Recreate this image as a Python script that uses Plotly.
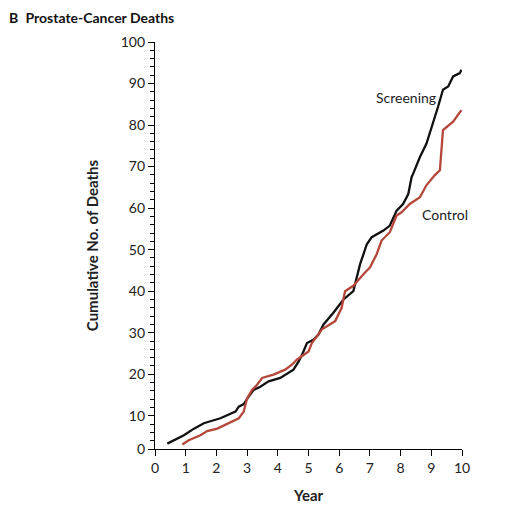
import plotly.graph_objects as go

# cumulative deaths (years, count)
screening_year = [0.40, 0.94, 1.27, 1.59, 2.13, 2.35, 2.62, 2.73, 2.89, 3.05, 3.21, 3.43,
                  3.70, 4.08, 4.35, 4.51, 4.68, 4.79, 4.95, 5.16, 5.32, 5.49, 5.81, 6.14,
                  6.46, 6.57, 6.68, 6.90, 7.06, 7.44, 7.65, 7.87, 8.08, 8.25, 8.36, 8.41,
                  8.63, 8.84, 9.06, 9.22, 9.38, 9.55, 9.71, 9.93, 9.98]
screening_deaths = [3.3, 5.3, 6.9, 8.2, 9.4, 10.2, 11.0, 12.2, 12.8, 14.6, 16.2, 17.0,
                    18.3, 19.1, 20.3, 21.1, 23.1, 24.7, 27.5, 28.3, 29.5, 32.0, 34.8, 38.0,
                    40.0, 43.3, 46.5, 51.3, 53.0, 54.6, 55.8, 59.4, 61.0, 63.4, 67.5, 68.3,
                    72.3, 75.5, 80.4, 84.4, 88.5, 89.3, 91.7, 92.5, 93.3]

control_year = [0.89, 1.10, 1.48, 1.70, 2.03, 2.46, 2.73, 2.89, 3.00, 3.16, 3.32, 3.49,
                3.86, 4.24, 4.46, 4.62, 4.84, 5.00, 5.11, 5.32, 5.44, 5.87, 6.08, 6.19,
                6.46, 6.84, 7.00, 7.22, 7.38, 7.65, 7.81, 7.87, 8.03, 8.30, 8.63, 8.84,
                9.11, 9.28, 9.38, 9.71, 9.98]
control_deaths = [3.1, 4.1, 5.3, 6.3, 6.9, 8.4, 9.4, 11.0, 14.2, 16.2, 17.4, 19.1,
                  19.9, 21.1, 22.3, 23.5, 24.7, 25.5, 27.5, 29.5, 30.8, 32.8, 36.0, 40.0,
                  41.3, 44.5, 45.7, 48.9, 52.2, 54.2, 57.4, 58.2, 59.0, 61.0, 62.6, 65.5,
                  67.9, 69.1, 78.8, 80.8, 83.6]

# the printed axis starts a little above zero, its bottom tick is labelled 0
y_tickvals = [2, 10, 20, 30, 40, 50, 60, 70, 80, 90, 100]
y_ticktext = ["0", "10", "20", "30", "40", "50", "60", "70", "80", "90", "100"]

black = "#111111"
red = "#b5473a"
font = "Lato"

fig = go.Figure()
fig.add_trace(go.Scatter(x=screening_year, y=screening_deaths, mode="lines",
                         line=dict(color=black, width=2.3), name="Screening"))
fig.add_trace(go.Scatter(x=control_year, y=control_deaths, mode="lines",
                         line=dict(color=red, width=2.3), name="Control"))

fig.add_annotation(x=8.17, y=86.6, text="Screening", showarrow=False,
                   font=dict(size=14, color="#222222", family=font))
fig.add_annotation(x=9.44, y=58.4, text="Control", showarrow=False,
                   font=dict(size=14, color="#222222", family=font))

# page body adds 8px, so the figure is 8px smaller than the window
fig.update_layout(
    width=510, height=499,
    margin=dict(l=147, r=56, t=34, b=58),
    paper_bgcolor="white", plot_bgcolor="white",
    showlegend=False,
    font=dict(family=font, size=14, color="#222222"),
    title=dict(text="<b>B</b>  <b>Prostate-Cancer Deaths</b>", x=0.002, xanchor="left",
               xref="container", yref="container", y=0.99, yanchor="top",
               font=dict(size=14, color="#111111", family=font)),
)
fig.update_xaxes(range=[0, 10], dtick=1, tick0=0, showgrid=False, zeroline=False,
                 automargin=False,
                 showline=True, linecolor="black", linewidth=1.3,
                 ticks="outside", ticklen=6, tickwidth=1.2, tickcolor="black",
                 tickfont=dict(size=14),
                 title=dict(text="<b>Year</b>", font=dict(size=15, family=font), standoff=15))
fig.update_yaxes(range=[2, 100], tickvals=y_tickvals, ticktext=y_ticktext,
                 showgrid=False, zeroline=False, automargin=False,
                 showline=True, linecolor="black", linewidth=1.3,
                 ticks="outside", ticklen=6, tickwidth=1.2, tickcolor="black",
                 tickfont=dict(size=14),
                 minor=dict(dtick=2, tick0=0, ticks="outside", ticklen=4, tickwidth=1,
                            tickcolor="black"),
                 title=dict(text="<b>Cumulative No. of Deaths</b>",
                            font=dict(size=15, family=font), standoff=18))

fig.write_html("out.html")
